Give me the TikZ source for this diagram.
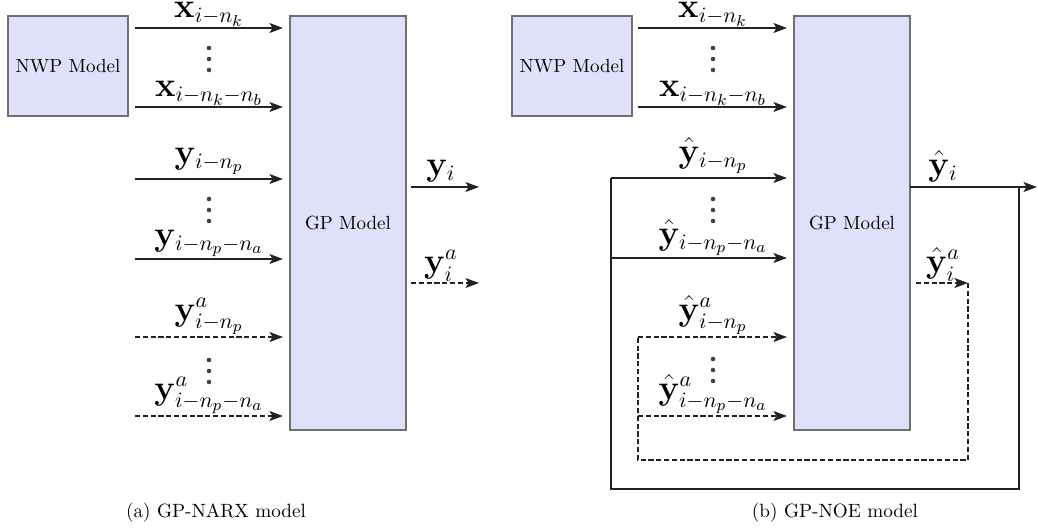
\documentclass[tikz,border=0pt]{standalone}
\usetikzlibrary{arrows.meta}
\definecolor{boxfill}{HTML}{E0E0FA}
\definecolor{boxedge}{HTML}{707070}
\definecolor{lineclr}{HTML}{222222}
\begin{document}
\begin{tikzpicture}[x=0.5pt,y=-0.5pt,
  blockbox/.style={draw=boxedge, fill=boxfill, line width=0.6pt, inner sep=0pt,
    font=\fontsize{9.5}{11}\selectfont},
  sig/.style={draw=lineclr, line width=0.65pt,
    -{Stealth[length=6.8pt,width=5pt,inset=1.6pt]}},
  wire/.style={draw=lineclr, line width=0.65pt},
  est/.style={dash pattern=on 2.6pt off 1.3pt},
  lab/.style={anchor=south, inner sep=0.8pt, font=\fontsize{16}{19}\selectfont},
  captext/.style={font=\fontsize{9.6}{11}\selectfont},
  dotmark/.style={fill=lineclr!85, circle, inner sep=0pt, minimum size=2.3pt}
]
\useasboundingbox (0,0) rectangle (1038,530);

% ---------------- (a) GP-NARX ----------------
\node[blockbox, minimum width=60pt, minimum height=50pt] (nwpA) at (68,66) {NWP Model};
\node[blockbox, minimum width=58pt, minimum height=207pt] (gpA) at (348,223) {GP Model};

\foreach \n/\y in {1/28,2/107,3/179,4/259,5/337,6/416}{
  \coordinate (aS\n) at (135,\y);
  \coordinate (aE\n) at (283,\y);
  \coordinate (aM\n) at (209,\y);
}
\draw[sig] (aS1) -- (aE1);
\draw[sig] (aS2) -- (aE2);
\draw[sig] (aS3) -- (aE3);
\draw[sig] (aS4) -- (aE4);
\draw[sig,est] (aS5) -- (aE5);
\draw[sig,est] (aS6) -- (aE6);
\node[lab] at (aM1) {$\mathbf{x}_{i-n_k}$};
\node[lab] at (aM2) {$\mathbf{x}_{i-n_k-n_b}$};
\node[lab, yshift=1pt] at (aM3) {$\mathbf{y}_{i-n_p}$};
\node[lab] at (aM4) {$\mathbf{y}_{i-n_p-n_a}$};
\node[lab] at (aM5) {$\mathbf{y}^a_{i-n_p}$};
\node[lab] at (aM6) {$\mathbf{y}^a_{i-n_p-n_a}$};

\foreach \y in {48,59,70,199,210,221,360,371,382}
  \node[dotmark] at (209,\y) {};

\coordinate (aO1s) at (411,187);
\coordinate (aO1e) at (479,187);
\coordinate (aO2s) at (411,283);
\coordinate (aO2e) at (479,283);
\coordinate (aO1m) at (441,187);
\coordinate (aO2m) at (441,283);
\draw[sig] (aO1s) -- (aO1e);
\draw[sig,est] (aO2s) -- (aO2e);
\node[lab, yshift=1.5pt] at (aO1m) {$\mathbf{y}_i$};
\node[lab] at (aO2m) {$\mathbf{y}^a_i$};

\node[captext] (capA) at (216,513) {(a) GP-NARX model};

% ---------------- (b) GP-NOE ----------------
\node[blockbox, minimum width=60pt, minimum height=50pt] (nwpB) at (572,66) {NWP Model};
\node[blockbox, minimum width=58pt, minimum height=207pt] (gpB) at (852,223) {GP Model};

\foreach \n/\y in {1/28,2/107,3/178,4/258,5/337,6/416}{
  \coordinate (bS\n) at (638,\y);
  \coordinate (bE\n) at (787,\y);
  \coordinate (bM\n) at (713,\y);
}
% fed-back outputs enter from the outer loops
\coordinate (bL3) at (611,178);
\coordinate (bL4) at (611,258);
\draw[sig] (bS1) -- (bE1);
\draw[sig] (bS2) -- (bE2);
\draw[sig] (bL3) -- (bE3);
\draw[sig] (bL4) -- (bE4);
\draw[sig,est] (bS5) -- (bE5);
\draw[sig,est] (bS6) -- (bE6);
\node[lab] at (bM1) {$\mathbf{x}_{i-n_k}$};
\node[lab] at (bM2) {$\mathbf{x}_{i-n_k-n_b}$};
\node[lab, yshift=1pt] at (bM3) {$\hat{\mathbf{y}}_{i-n_p}$};
\node[lab] at (bM4) {$\hat{\mathbf{y}}_{i-n_p-n_a}$};
\node[lab] at (bM5) {$\hat{\mathbf{y}}^a_{i-n_p}$};
\node[lab] at (bM6) {$\hat{\mathbf{y}}^a_{i-n_p-n_a}$};

\foreach \y in {48,59,70,199,210,221,359,370,381}
  \node[dotmark] at (713,\y) {};

% outputs
\coordinate (bO1s) at (910,187);
\coordinate (bO1e) at (1037,187);
\coordinate (bO2s) at (916,283);
\coordinate (bO2e) at (968,283);
\coordinate (bO1m) at (943,187);
\coordinate (bO2m) at (943,283);
\draw[sig] (bO1s) -- (bO1e);
\draw[sig,est] (bO2s) -- (bO2e);
\node[lab, yshift=1.5pt] at (bO1m) {$\hat{\mathbf{y}}_i$};
\node[lab] at (bO2m) {$\hat{\mathbf{y}}^a_i$};

% solid feedback loop
\coordinate (fbR) at (1019,187);
\coordinate (fbRB) at (1019,489);
\coordinate (fbLB) at (611,489);
\draw[wire] (fbR) -- (fbRB) -- (fbLB) -- (bL3);

% dashed feedback loop
\coordinate (dbRB) at (968,460);
\coordinate (dbLB) at (638,460);
\draw[wire,est] (bO2e) -- (dbRB) -- (dbLB) -- (bS5);

\node[captext] (capB) at (835,513) {(b) GP-NOE model};
\end{tikzpicture}
\end{document}
